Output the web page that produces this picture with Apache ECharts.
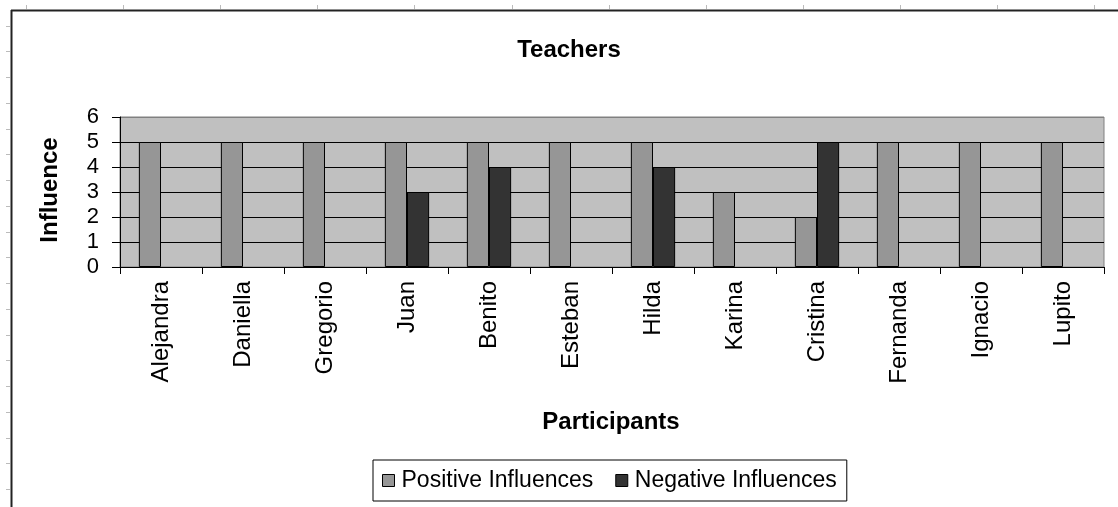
<!DOCTYPE html>
<html>
<head>
<meta charset="utf-8">
<script src="https://cdn.jsdelivr.net/npm/echarts@6/dist/echarts.min.js"></script>
<style>html,body{margin:0;padding:0;background:#fff}#c{width:1118px;height:507px}</style>
</head>
<body>
<div id="c"></div>
<script>
const categories = ['Alejandra','Daniella','Gregorio','Juan','Benito','Esteban','Hilda','Karina','Cristina','Fernanda','Ignacio','Lupito'];
const positiveInfluences = [5,5,5,5,5,5,5,3,2,5,5,5];
const negativeInfluences = [null,null,null,3,4,null,4,null,5,null,null,null];
const yTicks = [0,1,2,3,4,5,6];

const FONT = '"Liberation Sans", Arial, sans-serif';
const chart = echarts.init(document.getElementById('c'), null, {renderer:'canvas'});

// decorative spreadsheet frame
const deco = [];
deco.push({type:'line', shape:{x1:11.5,y1:10,x2:11.5,y2:507}, style:{stroke:'#222',lineWidth:2}, silent:true});
deco.push({type:'line', shape:{x1:11,y1:10.5,x2:1118,y2:10.5}, style:{stroke:'#222',lineWidth:2}, silent:true});
for (let y = 25.5; y < 507; y += 25.75) {
  deco.push({type:'line', shape:{x1:6,y1:Math.round(y)+0.5,x2:10,y2:Math.round(y)+0.5}, style:{stroke:'#bbb',lineWidth:1}, silent:true});
}
for (let x = 26; x < 1118; x += 97.1) {
  deco.push({type:'line', shape:{x1:Math.round(x)+0.5,y1:5,x2:Math.round(x)+0.5,y2:9}, style:{stroke:'#bbb',lineWidth:1}, silent:true});
}
deco.push({type:'text', x:50, y:190, rotation:Math.PI/2, style:{text:'Influence', font:'bold 24px '+FONT, fill:'#000', textAlign:'center', textVerticalAlign:'middle'}});

chart.setOption({
  animation:false,
  backgroundColor:'#fff',
  title:[
    {text:'Teachers', left:564, top:33, textAlign:'center', textStyle:{fontFamily:FONT, fontSize:24, fontWeight:'bold', color:'#000'}},
    {text:'Participants', left:606, top:405, textAlign:'center', textStyle:{fontFamily:FONT, fontSize:24, fontWeight:'bold', color:'#000'}}
  ],
  graphic: deco,
  legend:{
    left:373, top:460,
    data:['Positive Influences','Negative Influences'],
    backgroundColor:'#fff', borderColor:'#000', borderWidth:1,
    padding:[9,10,9,9], itemGap:22, itemWidth:12, itemHeight:12,
    icon:'rect',
    itemStyle:{borderColor:'#000', borderWidth:1},
    textStyle:{fontFamily:FONT, fontSize:23, color:'#000', padding:[0,0,0,2]}
  },
  grid:{left:120, right:14, top:117, bottom:240, show:true, backgroundColor:'#C0C0C0', borderColor:'#808080', borderWidth:1},
  xAxis:{
    type:'category', data:categories, boundaryGap:true,
    axisLine:{lineStyle:{color:'#000', width:1}},
    axisTick:{show:true, length:7, lineStyle:{color:'#000'}},
    axisLabel:{rotate:90, margin:14, fontFamily:FONT, fontSize:24, color:'#000'}
  },
  yAxis:{
    type:'value', min:0, max:6, interval:1,
    axisLine:{show:true, lineStyle:{color:'#000', width:1}},
    axisTick:{show:true, length:8, lineStyle:{color:'#000'}},
    axisLabel:{margin:21, fontFamily:FONT, fontSize:22, color:'#000', formatter:v => yTicks.includes(v) ? String(v) : ''},
    splitLine:{show:true, lineStyle:{color:['#000','#000','#000','#000','#000','#000','#808080'], width:1}}
  },
  series:[
    {name:'Positive Influences', type:'bar', data:positiveInfluences, barGap:'0%', barCategoryGap:'46%',
     itemStyle:{color:'#969696', borderColor:'#000', borderWidth:1}},
    {name:'Negative Influences', type:'bar', data:negativeInfluences, barGap:'0%', barCategoryGap:'46%',
     itemStyle:{color:'#333333', borderColor:'#000', borderWidth:1}}
  ]
});
</script>
</body>
</html>
